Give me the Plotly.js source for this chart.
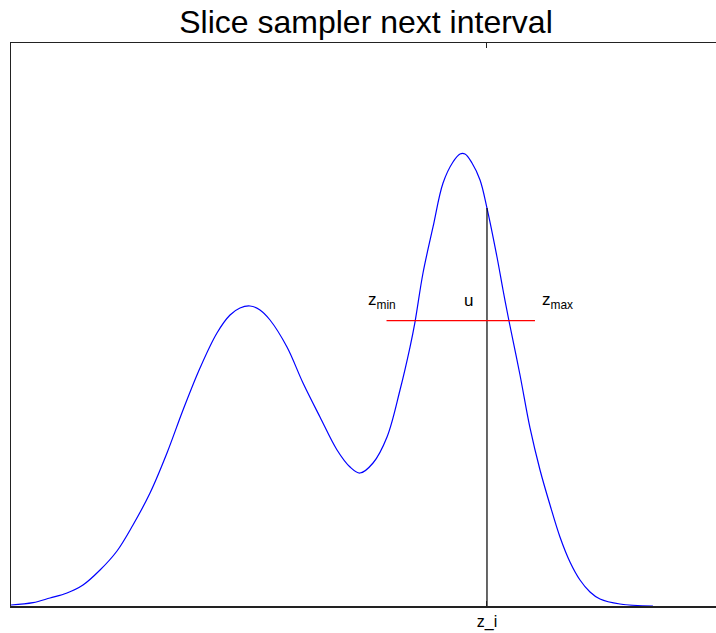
<!DOCTYPE html>
<html>
<head>
<meta charset="utf-8">
<script src="https://cdn.plot.ly/plotly-3.0.1.min.js"></script>
<style>
html,body{margin:0;padding:0;overflow:hidden;background:#fff;}
#chart{width:721px;height:633px;}
</style>
</head>
<body>
<div id="chart"></div>
<script>
// Density curve
const curveX = [0.000,0.310,0.549,0.789,1.014,1.254,1.493,1.718,1.958,2.197,2.423,2.662,2.901,3.085,3.225,3.366,3.507,3.648,3.887,4.113,4.352,4.592,4.775,4.915,5.099,5.296,5.479,5.620,5.690,5.803,5.944,6.085,6.225,6.324,6.394,6.493,6.606,6.704,6.845,6.930,7.014,7.169,7.310,7.451,7.592,7.732,7.873,8.014,8.155,8.296,8.577,9.042];
const curveY = [0.0018,0.0059,0.0142,0.0231,0.0373,0.0639,0.0977,0.1439,0.2007,0.2718,0.3481,0.4227,0.4849,0.5169,0.5293,0.5329,0.5258,0.5080,0.4600,0.3961,0.3357,0.2771,0.2469,0.2362,0.2540,0.3002,0.3837,0.4600,0.5044,0.5915,0.6732,0.7513,0.7886,0.8028,0.8028,0.7869,0.7567,0.7069,0.6199,0.5613,0.5062,0.4103,0.3162,0.2416,0.1794,0.1226,0.0782,0.0462,0.0249,0.0124,0.0036,0.0000];

// Slice sampler quantities
const zi = 6.704;        // current sample
const pAtZi = 0.7069;    // density at current sample
const u = 0.507;         // slice level
const zMin = 5.289;      // interval left end
const zMax = 7.380;      // interval right end

const tickVals = [zi];
const tickText = ['z_i'];

const fam = 'Liberation Sans, Arial, Helvetica, sans-serif';
const labelFont = {family: fam, size: 17, color: '#000'};

const traces = [
  {x: curveX, y: curveY, mode: 'lines', line: {color: '#0000ff', width: 1.2, shape: 'spline', smoothing: 1}, hoverinfo: 'skip'},
  {x: [zi, zi], y: [0, pAtZi], mode: 'lines', line: {color: '#000000', width: 1.2}, hoverinfo: 'skip'},
  {x: [zMin, zMax], y: [u, u], mode: 'lines', line: {color: '#ff0000', width: 1.2}, hoverinfo: 'skip'}
];

const layout = {
  width: 721, height: 633,
  margin: {l: 11, r: 0, t: 43, b: 27, pad: 0},
  paper_bgcolor: '#fff', plot_bgcolor: '#fff',
  showlegend: false,
  title: {
    text: 'Slice sampler next interval',
    font: {family: fam, size: 32, color: '#000'},
    xref: 'paper', x: 0.5, xanchor: 'center',
    yref: 'container', y: 1 - 22/633, yanchor: 'middle'
  },
  xaxis: {
    range: [0, 10], showgrid: false, zeroline: false,
    showline: true, linecolor: '#222', linewidth: 1.5, mirror: 'ticks',
    ticks: 'inside', ticklen: 5, tickcolor: '#222', tickwidth: 1,
    tickvals: tickVals, ticktext: tickText,
    tickfont: {family: fam, size: 16, color: '#000'}
  },
  yaxis: {
    range: [0, 1], showgrid: false, zeroline: false,
    showline: true, linecolor: '#222', linewidth: 1.5, mirror: true,
    ticks: '', showticklabels: false
  },
  annotations: [
    {x: 5.23, y: u + 0.035, xref: 'x', yref: 'y', text: 'z<sub>min</sub>', showarrow: false, xanchor: 'center', yanchor: 'middle', font: labelFont},
    {x: 6.44, y: u + 0.035, xref: 'x', yref: 'y', text: 'u', showarrow: false, xanchor: 'center', yanchor: 'middle', font: labelFont},
    {x: 7.70, y: u + 0.035, xref: 'x', yref: 'y', text: 'z<sub>max</sub>', showarrow: false, xanchor: 'center', yanchor: 'middle', font: labelFont}
  ]
};

Plotly.newPlot('chart', traces, layout, {displayModeBar: false, staticPlot: true});
</script>
</body>
</html>
